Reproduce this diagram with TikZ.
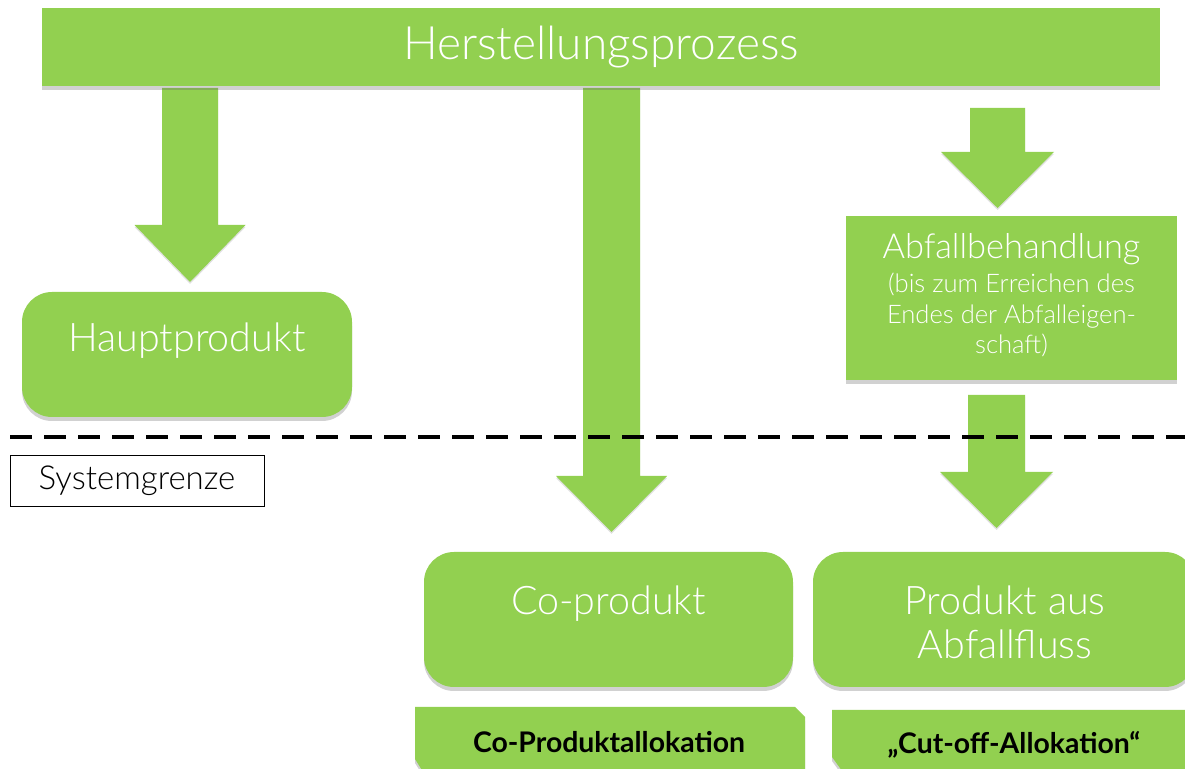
\documentclass[tikz,border=0pt]{standalone}
\usepackage{fontspec}
\IfFontExistsTF{Lato Light}{\setmainfont{Lato Light}[BoldFont=Lato Bold]}{\setmainfont{Lato}}
\usetikzlibrary{shadows}
\definecolor{grn}{HTML}{92D050}
\tikzset{
  shd/.style={drop shadow={shadow xshift=0pt, shadow yshift=-2pt, opacity=0.3, fill=black!60}},
  gbox/.style={fill=grn, draw=none, text=white, align=center, inner sep=0pt, shd},
  rbox/.style={gbox, rounded corners=15pt},
  txt/.style={text=white, align=center, inner sep=0pt},
  big/.style={txt, font=\fontsize{19.7}{22}\selectfont},
  lab/.style={font=\bfseries\fontsize{14.2}{16}\selectfont, text=black, inner sep=0pt},
}
\newcommand\blockarrow[6]{% cx, ytop, yhead, ytip, shaft half, head half
  \fill[grn, drop shadow={shadow xshift=0pt, shadow yshift=-1pt, opacity=0.2, fill=black!60}]
   (#1-#5,#2) -- (#1+#5,#2) -- (#1+#5,#3) -- (#1+#6,#3) -- (#1,#4) -- (#1-#6,#3) -- (#1-#5,#3) -- cycle;}
\begin{document}
\begin{tikzpicture}[x=0.5pt,y=-0.5pt]
\useasboundingbox (0,0) rectangle (1185,769);

% arrows
\blockarrow{190}{88}{225}{282}{28}{55.5}
\blockarrow{611.5}{88}{476}{532}{28.5}{55.5}
\blockarrow{997.5}{108}{152}{208}{27.5}{56.5}
\blockarrow{996.5}{395}{472}{528}{28.5}{56.5}

% top bar
\node[gbox, minimum width=559pt, minimum height=39pt] (top) at (601,47) {};
\node[txt, font=\fontsize{23}{26}\selectfont] (toptxt) at (601,47) {Herstellungsprozess};

\node[rbox, minimum width=165pt, minimum height=62.5pt] (haupt) at (187,354.5) {};
\node[big] (hauptt) at (187,341) {Hauptprodukt};

\node[gbox, minimum width=165.5pt, minimum height=82pt] (abf) at (1011.5,298) {};
\node[txt, font=\fontsize{17.2}{20}\selectfont] (abft) at (1011.5,249) {Abfallbehandlung};
\node[txt, font=\fontsize{12.8}{15.2}\selectfont] (abfs) at (1011.5,315) {(bis zum Erreichen des\\Endes der Abfalleigen-\\schaft)};

\node[rbox, minimum width=184.5pt, minimum height=67.5pt] (co) at (608.5,619.5) {};
\node[big] (cot) at (608.5,604) {Co-produkt};

\node[rbox, minimum width=191pt, minimum height=67.5pt] (prod) at (1004,619.5) {};
\node[big] (prodt) at (1005,622) {Produkt aus\\Abfallfluss};

% system boundary
\coordinate (dl) at (10,437);
\coordinate (dr) at (1185,437);
\draw[line width=1.6pt, dash pattern=on 11pt off 6pt] (dl) -- (dr);
\node[draw=black, line width=0.4pt, minimum width=127pt, minimum height=25.5pt, inner sep=0pt,
  font=\fontsize{16.5}{18}\selectfont] (sys) at (137,480.5) {Systemgrenze};

% allocation labels
\fill[grn, shd] (415,707) -- (795,707) -- (805,717) -- (805,775) -- (425,775) -- (415,759) -- cycle;
\node[lab] (al1) at (609,742) {Co-Produktallokation};
\fill[grn, shd] (832,710) -- (1190,710) -- (1190,775) -- (845,775) -- (832,757) -- cycle;
\node[lab] (al2) at (1014,745) {„Cut-off-Allokation“};
\end{tikzpicture}
\end{document}
